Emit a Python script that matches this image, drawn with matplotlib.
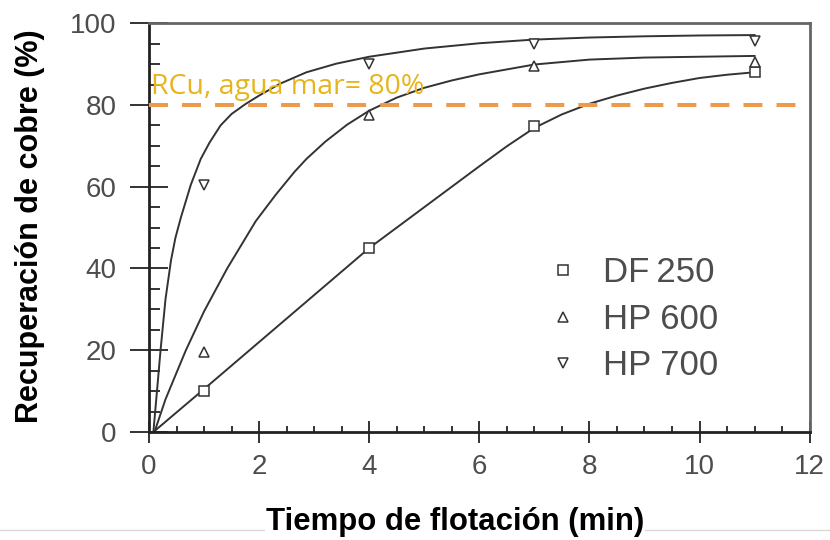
import matplotlib
matplotlib.use('Agg')
import matplotlib.pyplot as plt
from matplotlib.lines import Line2D
from matplotlib.ticker import MultipleLocator

plt.rcParams['font.family'] = ['Liberation Sans', 'DejaVu Sans']

# Puntos experimentales (tiempo en min, recuperacion en %)
t_exp = [1, 4, 7, 11]
r_df250 = [10, 45, 74.8, 88]
r_hp600 = [19.5, 77.5, 89.5, 90.5]
r_hp700 = [60.5, 90, 95, 95.7]

# Curvas de ajuste
t_fit_df250 = [0.08, 1, 2, 3, 4, 5, 6, 6.5, 7, 7.5, 8, 8.5, 9, 9.5, 10, 10.5, 11]
r_fit_df250 = [0, 10.5, 22, 33.5, 45, 55, 65, 69.9, 74.4, 77.7, 80.3, 82.3, 84, 85.4, 86.6, 87.4, 88]

t_fit_hp600 = [0.1, 0.3, 0.5, 0.67, 1.0, 1.42, 1.94, 2.3, 2.64, 2.86, 3.2, 3.6, 4.0, 4.5,
               5.0, 5.5, 6.0, 7.0, 8.0, 9.0, 10.0, 11.0]
r_fit_hp600 = [0, 8, 14.5, 20, 29.5, 40, 51.6, 58, 63.6, 66.8, 71, 75.2, 78.6, 81.8,
               84.2, 86, 87.5, 89.9, 91.1, 91.6, 91.8, 92]

t_fit_hp700 = [0.08, 0.21, 0.3, 0.4, 0.48, 0.58, 0.76, 0.94, 1.1, 1.3, 1.5, 1.75, 2.0, 2.38,
               2.86, 3.4, 4.0, 5.0, 6.0, 7.0, 8.0, 9.0, 10.0, 11.0]
r_fit_hp700 = [0, 20, 32.5, 42, 47.5, 52.5, 60.5, 66.8, 70.8, 75, 77.8, 80.2, 82.3, 85.2,
               88, 90.1, 91.8, 93.8, 95.1, 96.0, 96.5, 96.8, 97.0, 97.1]

# Recuperacion con agua de mar
r_agua_mar = 80

color_linea = '#333333'
color_gris = '#4d4d4d'

fig = plt.figure(figsize=(8.3, 5.4), dpi=100)
ax = fig.add_axes([0.1795, 0.2, 0.796, 0.757])

# Curvas de ajuste
ax.plot(t_fit_df250, r_fit_df250, color=color_linea, lw=1.4, zorder=2)
ax.plot(t_fit_hp600, r_fit_hp600, color=color_linea, lw=1.4, zorder=2)
ax.plot(t_fit_hp700, r_fit_hp700, color=color_linea, lw=1.4, zorder=2)

# Puntos experimentales
estilo = dict(linestyle='none', markersize=7, markerfacecolor='white',
              markeredgecolor=color_linea, markeredgewidth=1.1, zorder=3)
ax.plot(t_exp, r_df250, marker='s', label='DF\u2009250', **estilo)
ax.plot(t_exp, r_hp600, marker='^', label='HP 600', **estilo)
ax.plot(t_exp, r_hp700, marker='v', label='HP 700', **estilo)

# Linea de referencia agua de mar
ax.axhline(r_agua_mar, xmin=0, xmax=0.985, color='#EE9A4D', lw=2.9,
           dashes=(4.7, 3.5), dash_capstyle='butt', zorder=4)
ax.text(0.03, 82.6, 'RCu, agua mar= 80%', color='#E8B41E', fontsize=20.5,
        family=['Open Sans', 'DejaVu Sans'], ha='left', va='baseline', zorder=5)

ax.set_xlim(0, 12)
ax.set_ylim(0, 100)
ax.xaxis.set_major_locator(MultipleLocator(2))
ax.xaxis.set_minor_locator(MultipleLocator(0.5))
ax.yaxis.set_major_locator(MultipleLocator(20))
ax.yaxis.set_minor_locator(MultipleLocator(5))

ax.tick_params(axis='x', which='major', direction='inout', length=16, width=1.4,
               color=color_linea, labelsize=20, labelcolor=color_gris, pad=8)
ax.tick_params(axis='x', which='minor', direction='in', length=4.5, width=1.4,
               color=color_linea)
ax.tick_params(axis='y', which='major', direction='inout', length=27, width=1.4,
               color=color_linea, labelsize=20, labelcolor=color_gris, pad=10)
ax.tick_params(axis='y', which='minor', direction='in', length=8, width=1.4,
               color=color_linea)

for lado in ['left', 'bottom']:
    ax.spines[lado].set_color('#222222')
    ax.spines[lado].set_linewidth(2)
for lado in ['top', 'right']:
    ax.spines[lado].set_color('#666666')
    ax.spines[lado].set_linewidth(2)

leg = ax.legend(loc='upper left', bbox_to_anchor=(0.603, 0.43), frameon=False,
                fontsize=25, handlelength=0.9, handletextpad=0.7,
                labelspacing=0.39, borderpad=0, borderaxespad=0)
for txt in leg.get_texts():
    txt.set_color(color_gris)

# Linea gris inferior de la figura
fig.add_artist(Line2D([0, 1], [1 - 530 / 540, 1 - 530 / 540], transform=fig.transFigure,
                      color='#d9d9d9', lw=1))

fig.text(30 / 830, 1 - 226 / 540, 'Recuperación de cobre (%)', rotation=90,
         fontsize=22, fontweight='bold', ha='center', va='center')
fig.text(455 / 830, 1 - 530 / 540, 'Tiempo de flotación (min)', fontsize=22.4,
         fontweight='bold', ha='center', va='baseline',
         bbox=dict(facecolor='white', edgecolor='none', pad=1))

fig.savefig('out.png', dpi=100)
